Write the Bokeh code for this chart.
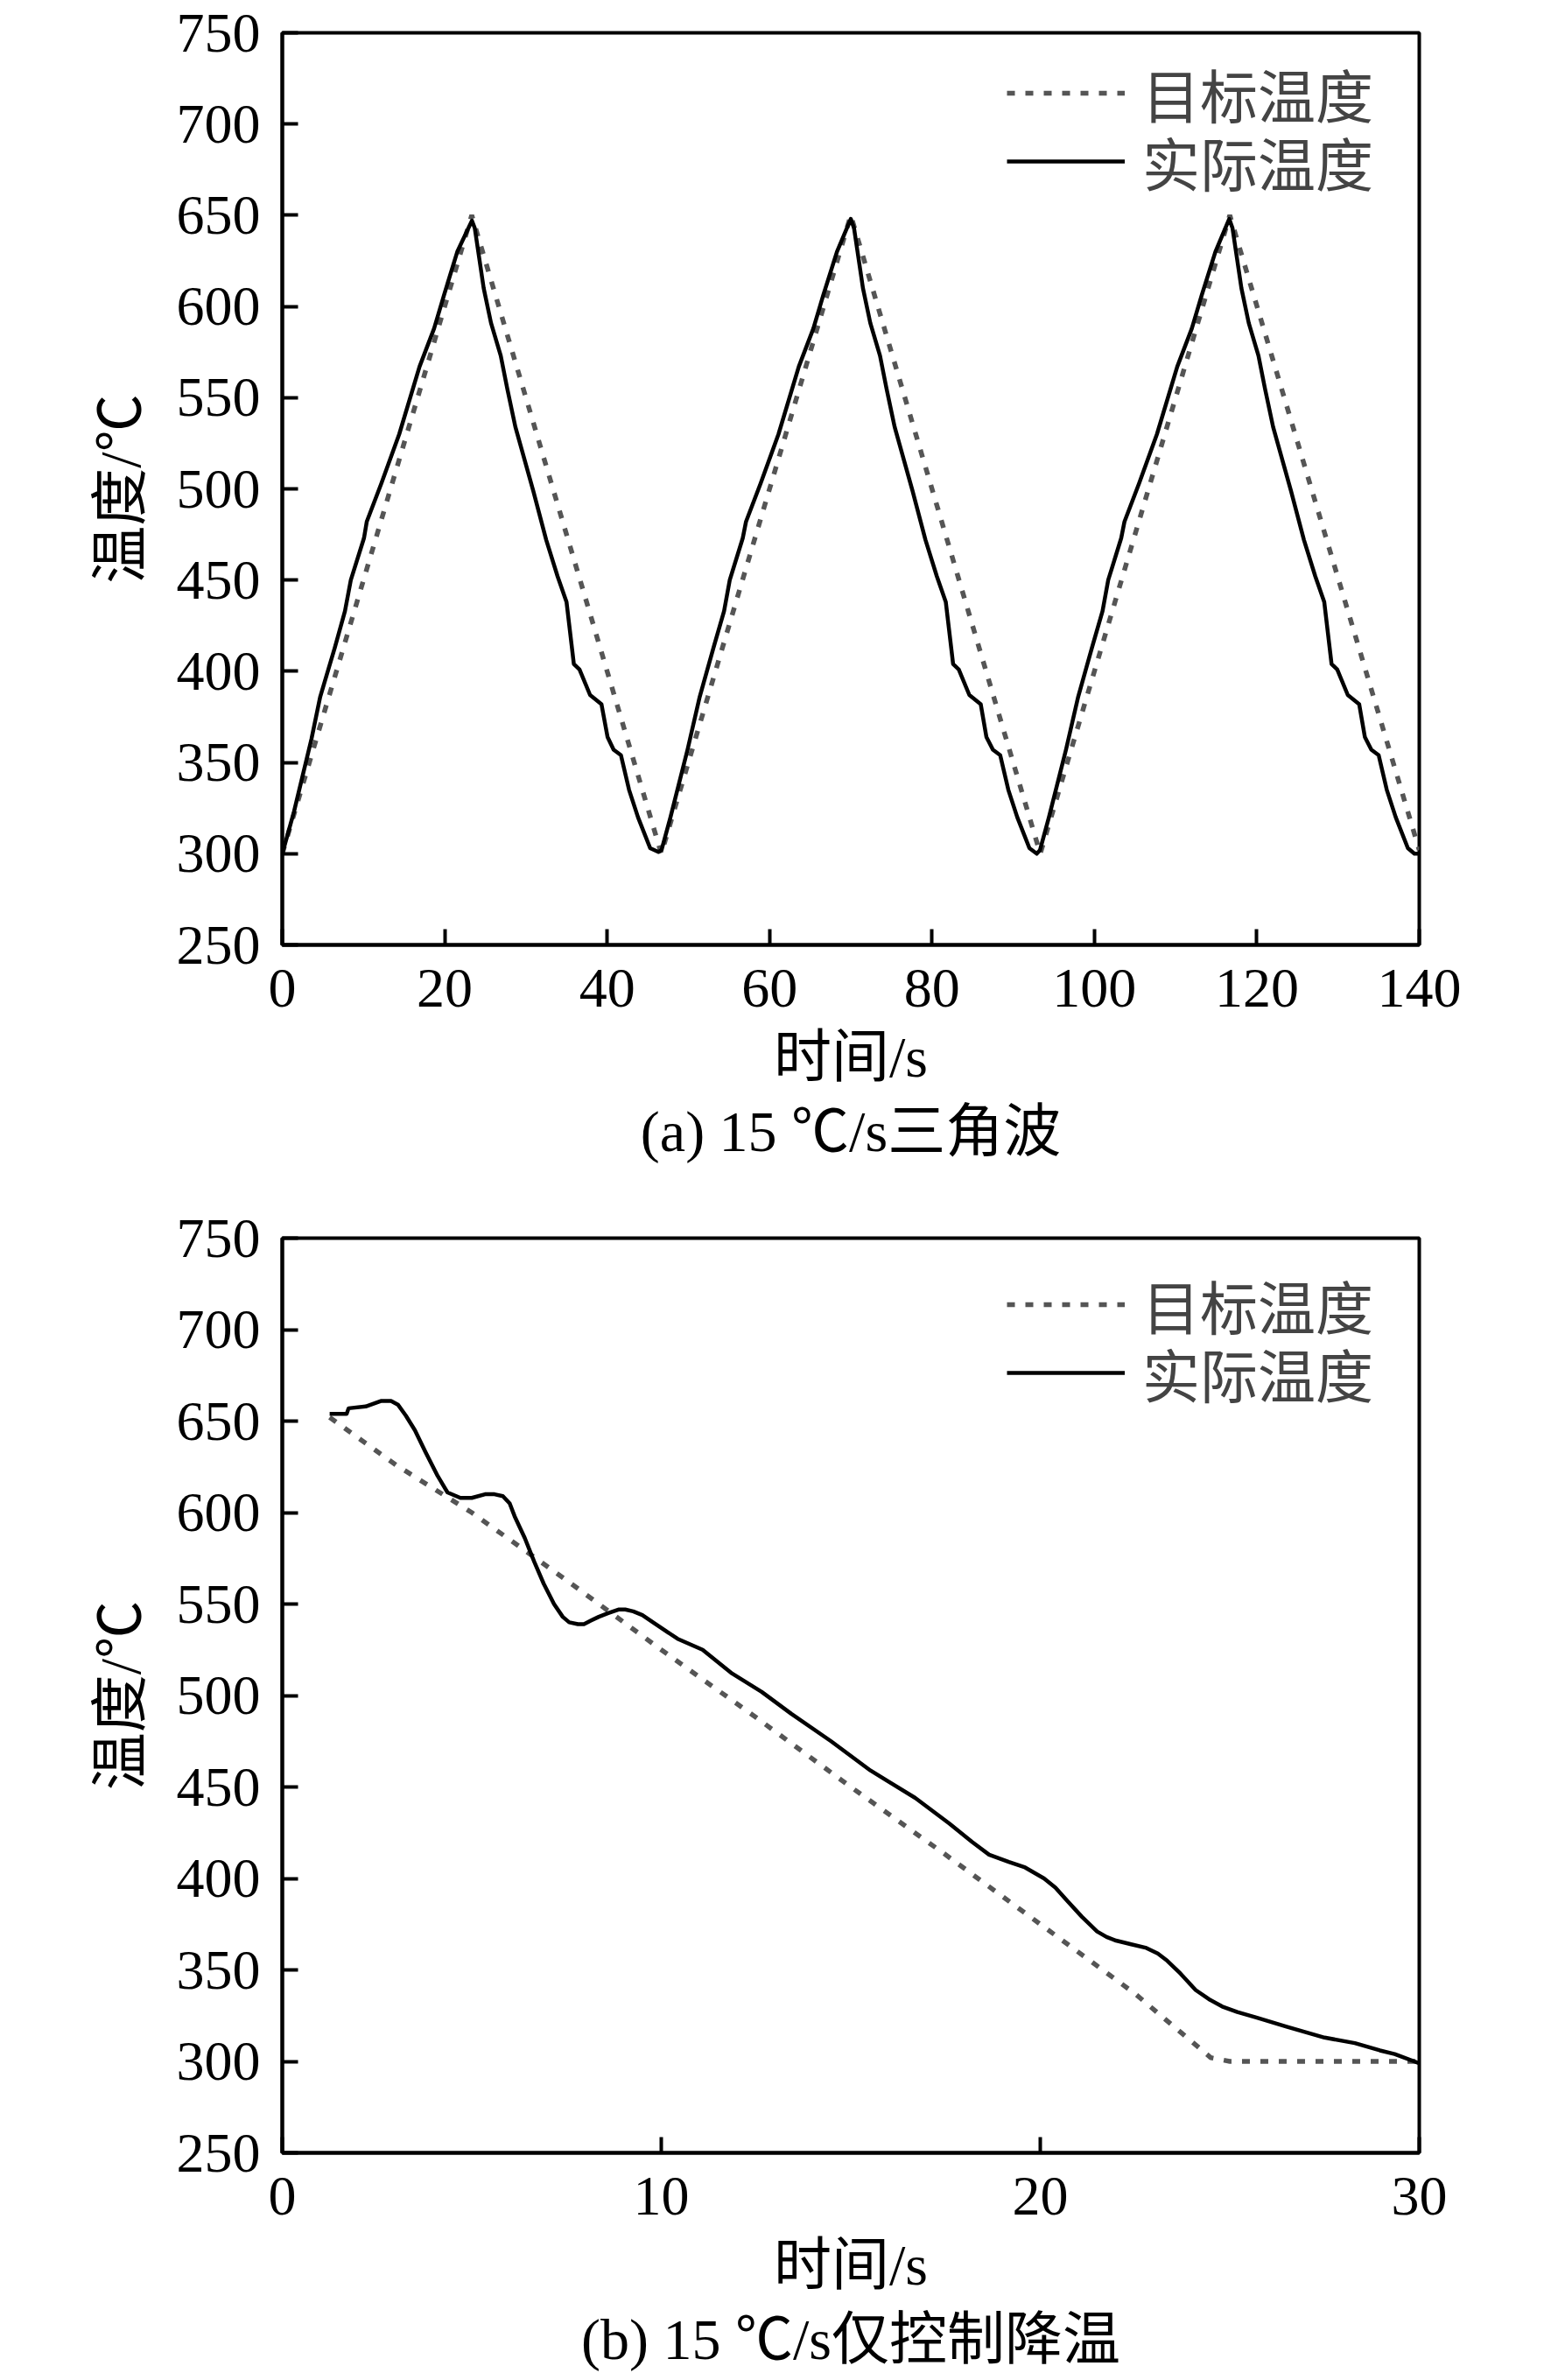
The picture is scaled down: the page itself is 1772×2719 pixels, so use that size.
from bokeh.plotting import figure
from bokeh.models import FixedTicker, Legend, LegendItem, Title, Range1d
from bokeh.layouts import column
from bokeh.embed import file_html
from bokeh.resources import INLINE

# ---------------- data: (a) 15 ℃/s triangle wave ----------------
a_target_t = [0, 23.33, 46.67, 70.0, 93.33, 116.67, 140.0]
a_target_T = [300, 650, 300, 650, 300, 650, 302]

a_actual_t = [0, 1.44, 3.6, 4.67, 6.47, 7.72, 8.44, 10.06, 10.4, 12.2, 14.4, 16.9, 18.7, 19.9, 21.55, 23.35,
              23.7, 24.8, 25.7, 26.9, 27.7, 28.7, 30.9, 32.5, 33.9, 35.0, 35.9, 36.6, 37.9, 39.3, 40.05, 40.8,
              41.7, 42.7, 43.8, 45.3, 46.3,
              46.7, 47.8, 49.9, 51.4, 53.1, 54.4, 55.1, 56.7, 57.1, 58.9, 61.1, 63.6, 65.4, 66.6, 68.3, 70.0,
              70.4, 71.5, 72.4, 73.6, 74.4, 75.4, 77.6, 79.2, 80.6, 81.7, 82.6, 83.3, 84.6, 86.0, 86.7, 87.5,
              88.4, 89.4, 90.5, 92.0, 92.9,
              93.3, 94.4, 96.5, 98.0, 99.7, 101.0, 101.7, 103.3, 103.7, 105.5, 107.7, 110.2, 112.0, 113.2, 114.9, 116.6,
              117.0, 118.1, 119.0, 120.2, 121.0, 122.0, 124.2, 125.8, 127.2, 128.3, 129.2, 129.9, 131.2, 132.6, 133.3,
              134.1, 135.0, 136.0, 137.1, 138.6, 139.4, 140.0]
a_actual_T = [300, 323, 363, 386, 413, 433, 450, 473, 482, 503, 530, 567, 588, 606, 630, 647,
              643, 610, 591, 573, 555, 534, 499, 472, 452, 438, 404, 401, 387, 382, 364, 357,
              354, 335, 320, 303, 301,
              302, 320, 357, 386, 413, 433, 450, 473, 482, 503, 530, 567, 588, 606, 630, 648,
              643, 610, 591, 573, 555, 534, 499, 472, 452, 438, 404, 401, 387, 382, 364, 357,
              354, 335, 320, 303, 300,
              302, 320, 357, 386, 413, 433, 450, 473, 482, 503, 530, 567, 588, 606, 630, 648,
              643, 610, 591, 573, 555, 534, 499, 472, 452, 438, 404, 401, 387, 382, 364, 357,
              354, 335, 320, 303, 300, 300]

a_xticks = [0, 20, 40, 60, 80, 100, 120, 140]

# ---------------- data: (b) 15 ℃/s cooling only ----------------
b_target_t = [1.25, 3.0, 5.0, 7.5, 10.0, 12.5, 15.0, 17.5, 20.0, 22.5, 24.5, 25.0, 30.0]
b_target_T = [652, 626, 600, 563, 525, 488, 450, 413, 375, 337, 302, 300, 300]

b_actual_t = [1.25, 1.7, 1.75, 2.2, 2.6, 2.87, 3.05, 3.26, 3.5, 3.78, 4.1, 4.36, 4.7, 5.0, 5.35, 5.6,
              5.82, 6.0, 6.13, 6.4, 6.65, 6.9, 7.17, 7.4, 7.57, 7.8, 7.96, 8.15, 8.35, 8.6, 8.87, 9.05,
              9.26, 9.5, 9.78, 10.43, 11.09, 11.87, 12.65, 13.43, 14.48, 15.52, 16.7, 17.6,
              18.2, 18.65, 19.17, 19.6, 20.1, 20.4, 20.7, 21.1, 21.5, 21.75, 22.0, 22.4, 22.8, 23.1, 23.35,
              23.7, 24.1, 24.45, 24.8, 25.2, 25.7, 26.5, 27.5, 28.3, 28.96, 29.35, 30.0]
b_actual_T = [654, 654, 657, 658, 661, 661, 659, 653, 645, 633, 620, 611, 608, 608, 610, 610,
              609, 605, 598, 586, 573, 561, 550, 543, 540, 539, 539, 541, 543, 545, 547, 547,
              546, 544, 540, 531, 525, 512, 502, 490, 475, 459, 444, 430,
              420, 413, 409, 406, 400, 395, 388, 379, 371, 368, 366, 364, 362, 359, 355,
              348, 339, 334, 330, 327, 324, 319, 313, 310, 306, 304, 299]

b_xticks = [0, 10, 20, 30]

y_ticks = [250, 300, 350, 400, 450, 500, 550, 600, 650, 700, 750]

legend_labels = ["目标温度", "实际温度"]
captions = ["(a) 15 ℃/s三角波", "(b) 15 ℃/s仅控制降温"]
x_label = "时间/s"
y_label = "温度/℃"

FONT = "'Liberation Serif', 'Noto Sans CJK SC'"


def one_legend(label, renderer, y):
    return Legend(items=[LegendItem(label=label, renderers=[renderer])],
                  location=(828, y), border_line_alpha=0, background_fill_alpha=0,
                  label_text_font=FONT, label_text_font_size="66px",
                  glyph_width=135, glyph_height=100, label_height=100,
                  spacing=0, padding=0, margin=0, label_standoff=20)


def make_plot(tt, tT, at, aT, xmax, xticks, caption, height, top, bottom, leg_y1, leg_y2):
    p = figure(width=1756, height=height, output_backend="svg", toolbar_location=None,
               x_range=Range1d(0, xmax), y_range=Range1d(250, 750),
               min_border_left=322, min_border_right=135,
               min_border_top=top, min_border_bottom=bottom)
    p.background_fill_color = "white"
    p.border_fill_color = "white"
    p.grid.visible = False
    p.outline_line_color = "black"
    p.outline_line_width = 4

    r1 = p.line(tt, tT, line_color="#555555", line_width=5.5, line_dash="9 12")
    r2 = p.line(at, aT, line_color="black", line_width=4.5, line_join="round")

    for ax in (p.xaxis[0], p.yaxis[0]):
        ax.axis_line_width = 4
        ax.major_tick_line_width = 4
        ax.major_tick_in = 18
        ax.major_tick_out = 0
        ax.minor_tick_line_color = None
        ax.major_label_text_font = FONT
        ax.major_label_text_font_size = "64px"
        ax.major_label_text_color = "black"
        ax.axis_label_text_font = FONT
        ax.axis_label_text_font_size = "66px"
        ax.axis_label_text_font_style = "normal"
        ax.axis_label_text_color = "black"

    p.xaxis.ticker = FixedTicker(ticks=xticks)
    p.yaxis.ticker = FixedTicker(ticks=y_ticks)
    p.xaxis.axis_label = x_label
    p.yaxis.axis_label = y_label
    p.xaxis.major_label_standoff = 28
    p.xaxis.axis_label_standoff = 18
    p.yaxis.major_label_standoff = 25
    p.yaxis.axis_label_standoff = 25

    p.add_layout(one_legend(legend_labels[0], r1, leg_y1))
    p.add_layout(one_legend(legend_labels[1], r2, leg_y2))

    t = Title(text=caption, align="center", text_font=FONT, text_font_size="66px",
              text_font_style="normal", text_color="black", standoff=15)
    p.add_layout(t, "below")
    return p


pa = make_plot(a_target_t, a_target_T, a_actual_t, a_actual_T, 140, a_xticks, captions[0],
               1352, 37, 273, 923, 845)
pb = make_plot(b_target_t, b_target_T, b_actual_t, b_actual_T, 30, b_xticks, captions[1],
               1367, 62, 260, 919, 841)

layout = column(pa, pb, spacing=0)
open("out.html", "w").write(file_html(layout, INLINE))
